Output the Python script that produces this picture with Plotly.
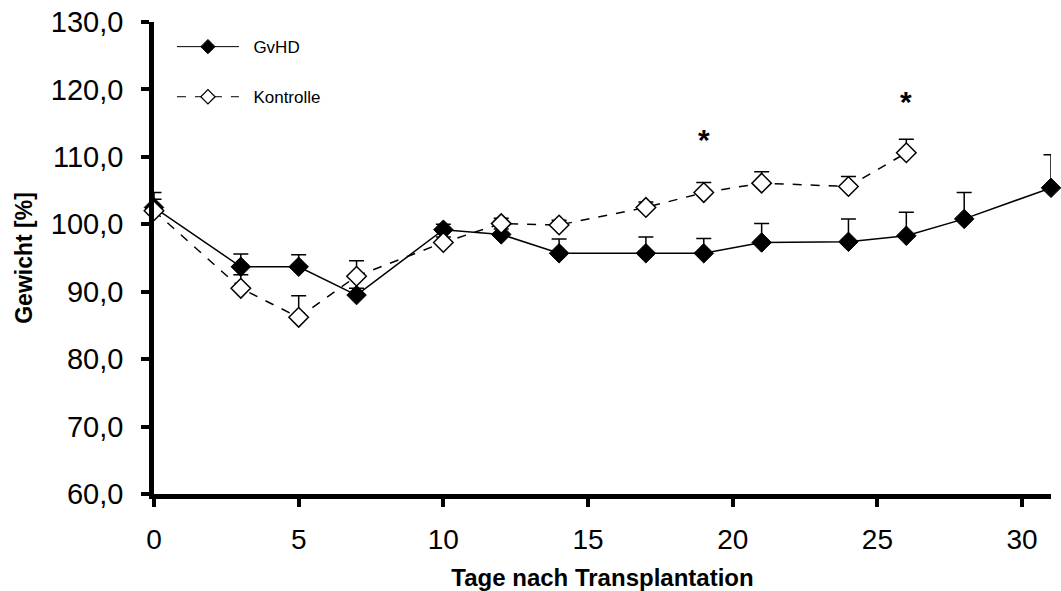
import plotly.graph_objects as go

# Days after transplantation
days_gvhd = [0, 3, 5, 7, 10, 12, 14, 17, 19, 21, 24, 26, 28, 31]
days_ctrl = [0, 3, 5, 7, 10, 12, 14, 17, 19, 21, 24, 26]

# Body weight in percent of the starting weight (mean) and upper error (SD)
weight_gvhd = [102.5, 93.7, 93.7, 89.5, 99.2, 98.5, 95.7, 95.7, 95.7, 97.3, 97.4, 98.3, 100.8, 105.4]
err_gvhd = [2.2, 1.9, 1.8, 1.0, 0.8, 0.8, 2.1, 2.4, 2.2, 2.8, 3.4, 3.5, 3.9, 4.9]

weight_ctrl = [102.0, 90.5, 86.2, 92.3, 97.3, 100.1, 99.9, 102.5, 104.7, 106.1, 105.6, 110.6]
err_ctrl = [1.7, 2.0, 3.2, 2.3, 0.8, 0.8, 0.7, 0.8, 1.5, 1.7, 1.5, 2.0]

# Significance markers
sig_days = [19, 26]
sig_y = [112.6, 118.2]

FONT = "Arial, Liberation Sans, sans-serif"
NBSP = "\u00a0"

fig = go.Figure()

fig.add_trace(go.Scatter(
    x=days_gvhd, y=weight_gvhd, name="GvHD", mode="lines+markers",
    line=dict(color="black", width=1.5),
    marker=dict(symbol="diamond", size=15, color="black",
                line=dict(color="black", width=1)),
    error_y=dict(type="data", symmetric=False, array=err_gvhd,
                 arrayminus=[0] * len(err_gvhd), color="black",
                 thickness=1.5, width=7.5),
    showlegend=False, cliponaxis=False,
))

fig.add_trace(go.Scatter(
    x=days_ctrl, y=weight_ctrl, name="Kontrolle", mode="lines+markers",
    line=dict(color="black", width=1.5, dash="dash"),
    marker=dict(symbol="diamond", size=15, color="white",
                line=dict(color="black", width=1.5)),
    error_y=dict(type="data", symmetric=False, array=err_ctrl,
                 arrayminus=[0] * len(err_ctrl), color="black",
                 thickness=1.5, width=7.5),
    showlegend=False, cliponaxis=False,
))

# Legend keys with thin sample lines
fig.add_trace(go.Scatter(
    x=[None], y=[None], name=NBSP * 2 + "GvHD", mode="lines+markers",
    line=dict(color="black", width=1),
    marker=dict(symbol="diamond", size=11, color="black",
                line=dict(color="black", width=1)),
    legendgroup="g1",
))
fig.add_trace(go.Scatter(
    x=[None], y=[None], name=NBSP * 2 + "Kontrolle", mode="lines+markers",
    line=dict(color="black", width=1, dash="dash"),
    marker=dict(symbol="diamond", size=11, color="white",
                line=dict(color="black", width=1.2)),
    legendgroup="g2",
))

for d, yv in zip(sig_days, sig_y):
    fig.add_annotation(x=d, y=yv, text="<b>*</b>", showarrow=False,
                       font=dict(family=FONT, size=30, color="black"))

fig.update_layout(
    width=1061, height=591,
    margin=dict(l=154, r=10, t=22, b=97, autoexpand=False),
    paper_bgcolor="white", plot_bgcolor="white",
    separators=",.",
    font=dict(family=FONT, color="black"),
    showlegend=True,
    legend=dict(x=0.02, y=0.985, xanchor="left", yanchor="top",
                bgcolor="rgba(0,0,0,0)", font=dict(family=FONT, size=17),
                itemsizing="trace", itemwidth=62, tracegroupgap=25),
)

fig.update_xaxes(
    range=[0, 31], tickmode="array", tickvals=[0, 5, 10, 15, 20, 25, 30],
    showline=True, linecolor="black", linewidth=4.5,
    ticks="outside", ticklen=8, tickwidth=4, tickcolor="black",
    showgrid=False, zeroline=False, ticklabelstandoff=9,
    tickfont=dict(family=FONT, size=28),
    title=dict(text="<b>Tage nach Transplantation</b>",
               font=dict(family=FONT, size=24), standoff=16),
)

fig.update_yaxes(
    range=[60, 130], tickmode="array",
    tickvals=[60, 70, 80, 90, 100, 110, 120, 130], tickformat=".1f",
    showline=True, linecolor="black", linewidth=4.5,
    ticks="outside", ticklen=8, tickwidth=4, tickcolor="black",
    showgrid=False, zeroline=False, ticklabelstandoff=12,
    tickfont=dict(family=FONT, size=29),
    title=dict(text="<b>Gewicht [%]</b>",
               font=dict(family=FONT, size=23), standoff=13),
)

fig.write_html("out.html")
